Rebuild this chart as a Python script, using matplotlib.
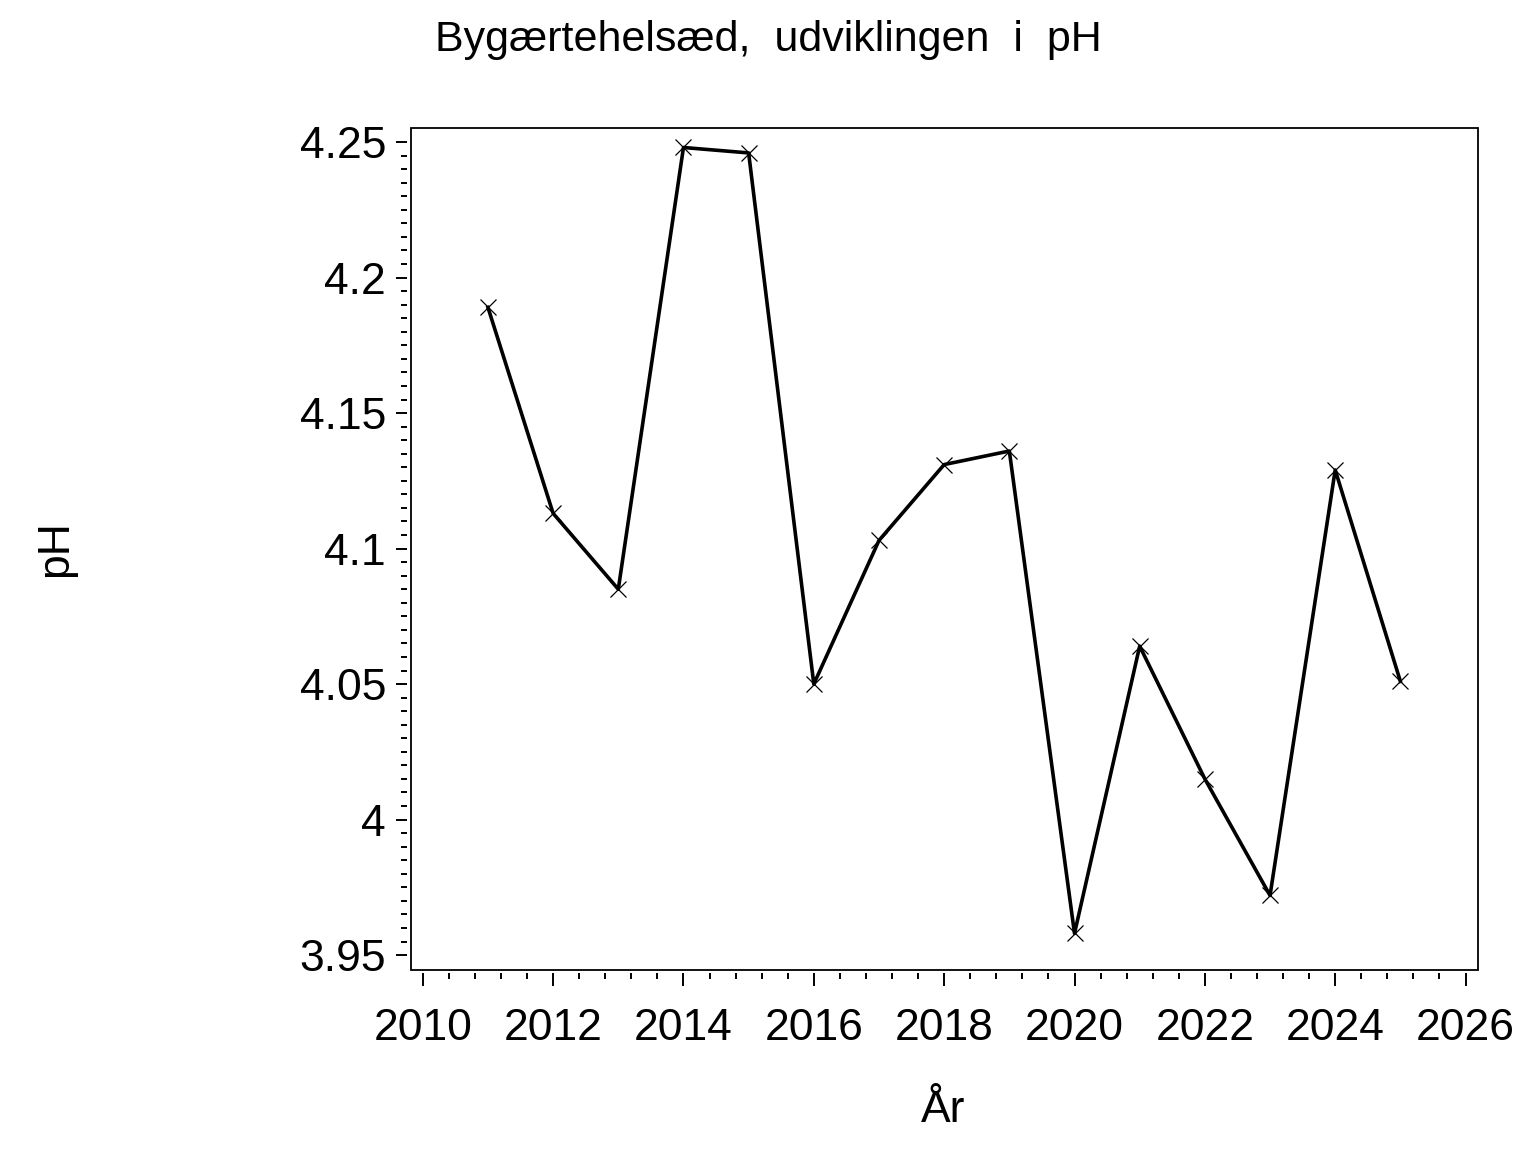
import matplotlib
matplotlib.use("Agg")
import matplotlib.pyplot as plt
from matplotlib.patches import Rectangle
from matplotlib.ticker import MultipleLocator, FixedLocator, FuncFormatter, FormatStrFormatter
import numpy as np

# Data
aar = [2011, 2012, 2013, 2014, 2015, 2016, 2017, 2018,
       2019, 2020, 2021, 2022, 2023, 2024, 2025]
ph = [4.189, 4.113, 4.085, 4.248, 4.246, 4.050, 4.103, 4.131,
      4.136, 3.958, 4.064, 4.015, 3.972, 4.129, 4.051]

titel = "Bygærtehelsæd,  udviklingen  i  pH"
xlabel = "År"
ylabel = "pH"

plt.rcParams['font.family'] = ['Liberation Sans', 'DejaVu Sans']
FS = 32

fig = plt.figure(figsize=(15.36, 11.52), dpi=100)
ax = fig.add_axes([0.2676, 0.158, 0.9622 - 0.2676, 0.8889 - 0.158])

ax.plot(aar, ph, color='black', linewidth=2.6, marker='x',
        markersize=12, markeredgewidth=0.9)

ax.set_xlim(2009.82, 2026.19)
ax.set_ylim(3.9445, 4.2552)

# frame drawn separately, axis ticks offset outward like the SAS output
for s in ['top', 'right']:
    ax.spines[s].set_visible(False)
ax.spines['left'].set_position(('outward', 3))
ax.spines['bottom'].set_position(('outward', 2))
ax.spines['left'].set_color('none')
ax.spines['bottom'].set_color('none')
ax.add_patch(Rectangle((0, 0), 1, 1, transform=ax.transAxes, fill=False,
                       edgecolor='black', linewidth=1.3, clip_on=False))

ax.xaxis.set_major_locator(MultipleLocator(2))
ax.yaxis.set_major_locator(MultipleLocator(0.05))
# minor ticks only inside the labelled range
ax.xaxis.set_minor_locator(FixedLocator(np.arange(2010, 2026.01, 0.4)))
ax.yaxis.set_minor_locator(FixedLocator(np.arange(3.95, 4.2501, 0.005)))


def fmt_y(v, pos):
    return f"{v:.2f}".rstrip('0').rstrip('.')


ax.yaxis.set_major_formatter(FuncFormatter(fmt_y))
ax.xaxis.set_major_formatter(FormatStrFormatter('%d'))

ax.tick_params(axis='both', which='both', width=1.4, color='black')
ax.tick_params(axis='both', which='major', labelsize=FS)
ax.tick_params(axis='x', which='major', length=9.5, pad=16)
ax.tick_params(axis='x', which='minor', length=4.5)
ax.tick_params(axis='y', which='major', length=8, pad=7)
ax.tick_params(axis='y', which='minor', length=4.3)

fig.text(0.5, 0.965, titel, ha='center', va='center', fontsize=31)
fig.text(0.614, 0.036, xlabel, ha='center', va='center', fontsize=FS)
fig.text(0.036, 0.524, ylabel, ha='center', va='center', fontsize=FS, rotation=90)

fig.savefig("out.png", dpi=100)
plt.close(fig)
